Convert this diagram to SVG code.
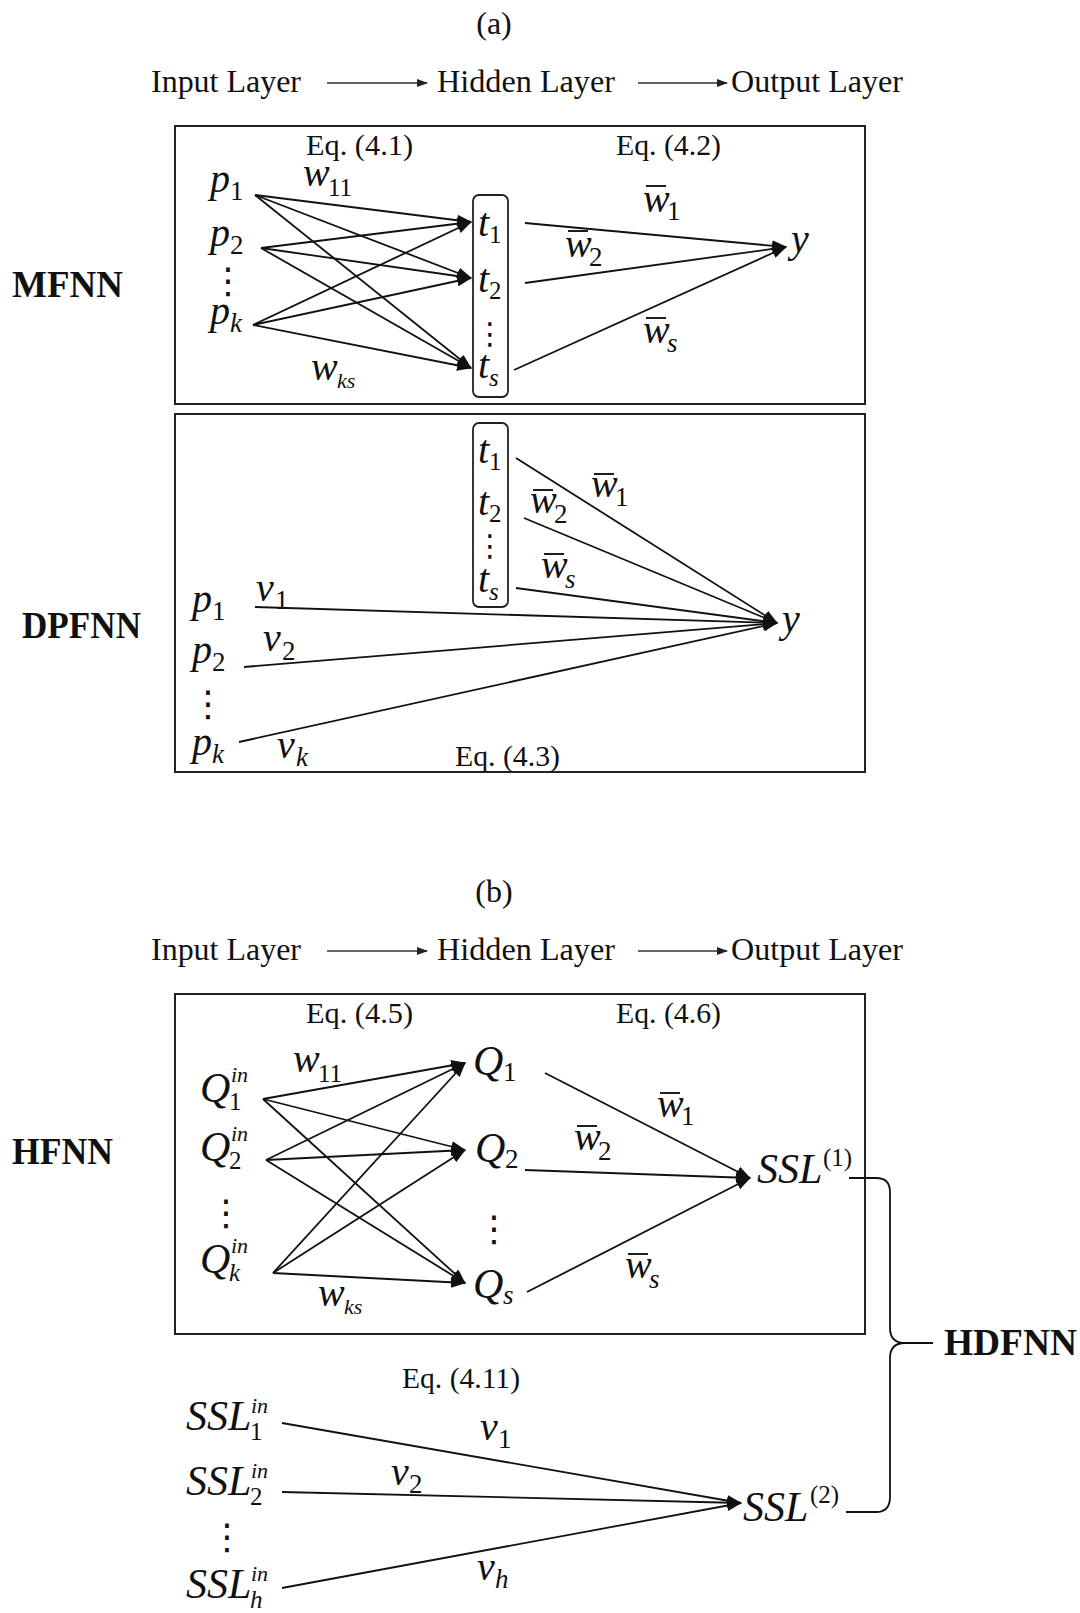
<svg xmlns="http://www.w3.org/2000/svg" width="1080" height="1613" viewBox="0 0 1080 1613">
<defs>
<marker id="ah" markerUnits="userSpaceOnUse" markerWidth="15" markerHeight="11" refX="14" refY="5.5" orient="auto"><path d="M0,0 L15,5.5 L0,11 z" fill="#111"/></marker>
<marker id="ahs" markerUnits="userSpaceOnUse" markerWidth="11" markerHeight="8" refX="10" refY="4" orient="auto"><path d="M0,0 L11,4 L0,8 z" fill="#222"/></marker>
<style>
text{font-family:"Liberation Serif","Times New Roman",serif;fill:#111}
.hdr{font-size:32px}
.eq{font-size:29px}
.lbl{font-size:38px;font-weight:bold}
.it{font-size:40px;font-style:italic}
.big{font-size:42px;font-style:italic}
.sb{font-size:27px}
.ss{font-size:22px}
.sp{font-size:25px}
.up{font-style:normal}
.dots{font-family:"DejaVu Sans",sans-serif;font-size:36px}
.dsm{font-family:"DejaVu Sans",sans-serif;font-size:30px}
.box{fill:none;stroke:#222;stroke-width:2}
.hr{fill:none;stroke:#222;stroke-width:1.8}
.c{stroke:#111;stroke-width:1.8;fill:none}
.ca{stroke:#111;stroke-width:1.8;fill:none;marker-end:url(#ah)}
.ha{stroke:#333;stroke-width:1.6;marker-end:url(#ahs)}
.bar{stroke:#111;stroke-width:1.9}
</style>
</defs>

<!-- ===== (a) ===== -->
<g id="title-a"><text class="hdr" x="494" y="34" text-anchor="middle">(a)</text></g>
<g id="header-a">
<text class="hdr" x="151" y="92" textLength="150" lengthAdjust="spacingAndGlyphs">Input Layer</text>
<text class="hdr" x="437" y="92" textLength="178" lengthAdjust="spacingAndGlyphs">Hidden Layer</text>
<text class="hdr" x="731" y="92" textLength="172" lengthAdjust="spacingAndGlyphs">Output Layer</text>
</g>

<g id="mfnn">
<rect class="box" x="175" y="126" width="690" height="278"/>
<text class="lbl" x="12" y="297" textLength="111" lengthAdjust="spacingAndGlyphs">MFNN</text>
<text class="eq" x="306" y="155" textLength="107" lengthAdjust="spacingAndGlyphs">Eq. (4.1)</text>
<text class="eq" x="616" y="155" textLength="105" lengthAdjust="spacingAndGlyphs">Eq. (4.2)</text>
<g id="mfnn-p1"><text class="it" x="210" y="192">p<tspan class="sb up" x="230" y="200">1</tspan></text></g>
<g id="mfnn-p2"><text class="it" x="210" y="246">p<tspan class="sb up" x="230" y="254">2</tspan></text></g>
<g id="mfnn-pdots"><text class="dots" x="228" y="293" text-anchor="middle">⋮</text></g>
<g id="mfnn-pk"><text class="it" x="210" y="324">p<tspan class="sb" x="230" y="332">k</tspan></text></g>
<g id="mfnn-w11"><text class="it" x="303" y="186">w<tspan class="sp up" x="328" y="196">11</tspan></text></g>
<g id="mfnn-wks"><text class="it" x="311" y="380">w<tspan class="ss" x="337" y="388">ks</tspan></text></g>
<g id="mfnn-hidden">
<rect class="hr" x="473" y="195" width="35" height="202" rx="6"/>
<text class="it" x="478" y="236">t<tspan class="sp up" x="489" y="243">1</tspan></text>
<text class="it" x="478" y="292">t<tspan class="sp up" x="489" y="299">2</tspan></text>
<text class="dsm" x="490" y="344" text-anchor="middle">⋮</text>
<text class="it" x="478" y="378">t<tspan class="sp" x="489" y="386">s</tspan></text>
</g>
<g id="mfnn-y"><text class="it" x="791" y="252">y</text></g>
<g id="mfnn-wb1"><line class="bar" x1="646" y1="186" x2="666" y2="186"/><text class="it" x="643" y="212">w<tspan class="sb up" x="667" y="220">1</tspan></text></g>
<g id="mfnn-wb2"><line class="bar" x1="568" y1="231" x2="588" y2="231"/><text class="it" x="565" y="257">w<tspan class="sb up" x="589" y="266">2</tspan></text></g>
<g id="mfnn-wbs"><line class="bar" x1="646" y1="318" x2="666" y2="318"/><text class="it" x="643" y="343">w<tspan class="sb" x="667" y="352">s</tspan></text></g>
</g>

<g id="dpfnn">
<rect class="box" x="175" y="414" width="690" height="358"/>
<text class="lbl" x="22" y="638" textLength="119" lengthAdjust="spacingAndGlyphs">DPFNN</text>
<g id="dpfnn-hidden">
<rect class="hr" x="473" y="423" width="35" height="184" rx="6"/>
<text class="it" x="478" y="463">t<tspan class="sp up" x="489" y="470">1</tspan></text>
<text class="it" x="478" y="515">t<tspan class="sp up" x="489" y="522">2</tspan></text>
<text class="dsm" x="490" y="556" text-anchor="middle">⋮</text>
<text class="it" x="478" y="592">t<tspan class="sp" x="489" y="600">s</tspan></text>
</g>
<g id="dpfnn-y"><text class="it" x="782" y="632">y</text></g>
<g id="dpfnn-p1"><text class="it" x="192" y="612">p<tspan class="sb up" x="212" y="620">1</tspan></text></g>
<g id="dpfnn-p2"><text class="it" x="192" y="663">p<tspan class="sb up" x="212" y="671">2</tspan></text></g>
<g id="dpfnn-pdots"><text class="dots" x="208" y="716" text-anchor="middle">⋮</text></g>
<g id="dpfnn-pk"><text class="it" x="192" y="755">p<tspan class="sb" x="212" y="763">k</tspan></text></g>
<g id="dpfnn-v1"><text class="it" x="256" y="601">v<tspan class="sb up" x="275" y="609">1</tspan></text></g>
<g id="dpfnn-v2"><text class="it" x="263" y="651">v<tspan class="sb up" x="282" y="660">2</tspan></text></g>
<g id="dpfnn-vk"><text class="it" x="277" y="758">v<tspan class="sb" x="296" y="766">k</tspan></text></g>
<g id="dpfnn-wb1"><line class="bar" x1="594" y1="474" x2="614" y2="474"/><text class="it" x="591" y="497">w<tspan class="sb up" x="615" y="506">1</tspan></text></g>
<g id="dpfnn-wb2"><line class="bar" x1="533" y1="490" x2="553" y2="490"/><text class="it" x="530" y="513">w<tspan class="sb up" x="554" y="523">2</tspan></text></g>
<g id="dpfnn-wbs"><line class="bar" x1="544" y1="554" x2="564" y2="554"/><text class="it" x="541" y="578">w<tspan class="sb" x="565" y="588">s</tspan></text></g>
<text class="eq" x="455" y="766" textLength="105" lengthAdjust="spacingAndGlyphs">Eq. (4.3)</text>
</g>

<!-- ===== (b) ===== -->
<g id="title-b"><text class="hdr" x="494" y="902" text-anchor="middle">(b)</text></g>
<g id="header-b">
<text class="hdr" x="151" y="960" textLength="150" lengthAdjust="spacingAndGlyphs">Input Layer</text>
<text class="hdr" x="437" y="960" textLength="178" lengthAdjust="spacingAndGlyphs">Hidden Layer</text>
<text class="hdr" x="731" y="960" textLength="172" lengthAdjust="spacingAndGlyphs">Output Layer</text>
</g>

<g id="hfnn">
<rect class="box" x="175" y="994" width="690" height="340"/>
<text class="lbl" x="12" y="1164" textLength="101" lengthAdjust="spacingAndGlyphs">HFNN</text>
<text class="eq" x="306" y="1023" textLength="107" lengthAdjust="spacingAndGlyphs">Eq. (4.5)</text>
<text class="eq" x="616" y="1023" textLength="105" lengthAdjust="spacingAndGlyphs">Eq. (4.6)</text>
<g id="hfnn-q1in"><text class="big" x="200" y="1102">Q<tspan class="ss" x="231" y="1082">in</tspan><tspan class="sp up" x="229" y="1110">1</tspan></text></g>
<g id="hfnn-q2in"><text class="big" x="200" y="1161">Q<tspan class="ss" x="231" y="1141">in</tspan><tspan class="sp up" x="229" y="1169">2</tspan></text></g>
<g id="hfnn-qdots"><text class="dots" x="226" y="1225" text-anchor="middle">⋮</text></g>
<g id="hfnn-qkin"><text class="big" x="200" y="1273">Q<tspan class="ss" x="231" y="1253">in</tspan><tspan class="sp" x="229" y="1281">k</tspan></text></g>
<g id="hfnn-w11"><text class="it" x="293" y="1072">w<tspan class="sp up" x="318" y="1082">11</tspan></text></g>
<g id="hfnn-wks"><text class="it" x="318" y="1306">w<tspan class="ss" x="344" y="1314">ks</tspan></text></g>
<g id="hfnn-q1"><text class="big" x="473" y="1075">Q<tspan class="sb up" x="503" y="1081">1</tspan></text></g>
<g id="hfnn-q2"><text class="big" x="475" y="1162">Q<tspan class="sb up" x="505" y="1168">2</tspan></text></g>
<g id="hfnn-qhdots"><text class="dots" x="494" y="1241" text-anchor="middle">⋮</text></g>
<g id="hfnn-qs"><text class="big" x="473" y="1298">Q<tspan class="sb" x="503" y="1304">s</tspan></text></g>
<g id="hfnn-ssl1"><text class="big" x="757" y="1183">SSL<tspan class="sp up" x="823" y="1166">(1)</tspan></text></g>
<g id="hfnn-wb1"><line class="bar" x1="660" y1="1093" x2="680" y2="1093"/><text class="it" x="657" y="1117">w<tspan class="sb up" x="681" y="1125">1</tspan></text></g>
<g id="hfnn-wb2"><line class="bar" x1="577" y1="1126" x2="597" y2="1126"/><text class="it" x="574" y="1150">w<tspan class="sb up" x="598" y="1160">2</tspan></text></g>
<g id="hfnn-wbs"><line class="bar" x1="628" y1="1254" x2="648" y2="1254"/><text class="it" x="625" y="1278">w<tspan class="sb" x="649" y="1288">s</tspan></text></g>
</g>

<g id="hdfnn">
<text class="lbl" x="944" y="1355" textLength="133" lengthAdjust="spacingAndGlyphs">HDFNN</text>
</g>

<g id="sslnet">
<text class="eq" x="402" y="1388" textLength="118" lengthAdjust="spacingAndGlyphs">Eq. (4.11)</text>
<g id="ssl1in"><text class="big" x="186" y="1430">SSL<tspan class="ss" x="251" y="1413">in</tspan><tspan class="sp up" x="250" y="1440">1</tspan></text></g>
<g id="ssl2in"><text class="big" x="186" y="1495">SSL<tspan class="ss" x="251" y="1478">in</tspan><tspan class="sp up" x="250" y="1505">2</tspan></text></g>
<g id="ssldots"><text class="dots" x="227" y="1549" text-anchor="middle">⋮</text></g>
<g id="sslhin"><text class="big" x="186" y="1598">SSL<tspan class="ss" x="251" y="1581">in</tspan><tspan class="sp" x="250" y="1608">h</tspan></text></g>
<g id="ssl-v1"><text class="it" x="480" y="1440">v<tspan class="sb up" x="498" y="1448">1</tspan></text></g>
<g id="ssl-v2"><text class="it" x="391" y="1485">v<tspan class="sb up" x="409" y="1493">2</tspan></text></g>
<g id="ssl-vh"><text class="it" x="477" y="1580">v<tspan class="sb" x="495" y="1588">h</tspan></text></g>
<g id="ssl2"><text class="big" x="743" y="1521">SSL<tspan class="sp up" x="810" y="1503">(2)</tspan></text></g>
</g>

<g id="connectors">
<line class="ha" x1="327" y1="83" x2="427" y2="83"/>
<line class="ha" x1="638" y1="83" x2="727" y2="83"/>
<line class="ha" x1="327" y1="951" x2="427" y2="951"/>
<line class="ha" x1="638" y1="951" x2="727" y2="951"/>
<!-- MFNN -->
<line class="ca" x1="255" y1="195" x2="471" y2="222"/>
<line class="ca" x1="255" y1="195" x2="471" y2="278"/>
<line class="ca" x1="255" y1="195" x2="471" y2="368"/>
<line class="ca" x1="261" y1="248" x2="471" y2="222"/>
<line class="ca" x1="261" y1="248" x2="471" y2="278"/>
<line class="ca" x1="261" y1="248" x2="471" y2="368"/>
<line class="ca" x1="253" y1="325" x2="471" y2="222"/>
<line class="ca" x1="253" y1="325" x2="471" y2="278"/>
<line class="ca" x1="253" y1="325" x2="471" y2="368"/>
<line class="ca" x1="525" y1="223" x2="786" y2="247"/>
<line class="ca" x1="525" y1="283" x2="786" y2="247"/>
<line class="ca" x1="514" y1="370" x2="786" y2="247"/>
<!-- DPFNN -->
<line class="ca" x1="516" y1="458" x2="777" y2="623"/>
<line class="ca" x1="524" y1="518" x2="777" y2="623"/>
<line class="ca" x1="516" y1="588" x2="777" y2="623"/>
<line class="ca" x1="255" y1="607" x2="777" y2="623"/>
<line class="ca" x1="244" y1="667" x2="777" y2="623"/>
<line class="ca" x1="239" y1="742" x2="777" y2="623"/>
<!-- HFNN -->
<line class="ca" x1="263" y1="1099" x2="465" y2="1063"/>
<line class="ca" x1="263" y1="1099" x2="465" y2="1150"/>
<line class="ca" x1="263" y1="1099" x2="465" y2="1283"/>
<line class="ca" x1="266" y1="1160" x2="465" y2="1063"/>
<line class="ca" x1="266" y1="1160" x2="465" y2="1150"/>
<line class="ca" x1="266" y1="1160" x2="465" y2="1283"/>
<line class="ca" x1="273" y1="1273" x2="465" y2="1063"/>
<line class="ca" x1="273" y1="1273" x2="465" y2="1150"/>
<line class="ca" x1="273" y1="1273" x2="465" y2="1283"/>
<line class="ca" x1="545" y1="1073" x2="750" y2="1178"/>
<line class="ca" x1="525" y1="1170" x2="750" y2="1178"/>
<line class="ca" x1="527" y1="1292" x2="750" y2="1178"/>
<!-- SSL -->
<line class="ca" x1="282" y1="1423" x2="741" y2="1503"/>
<line class="ca" x1="282" y1="1492" x2="741" y2="1503"/>
<line class="ca" x1="282" y1="1588" x2="741" y2="1503"/>
<!-- brace -->
<path class="c" d="M849,1178 L876,1178 Q890,1178 890,1192 L890,1328 Q890,1343 905,1343 L933,1343 M905,1343 Q890,1343 890,1358 L890,1497 Q890,1512 876,1512 L846,1512"/>
</g>
</svg>
